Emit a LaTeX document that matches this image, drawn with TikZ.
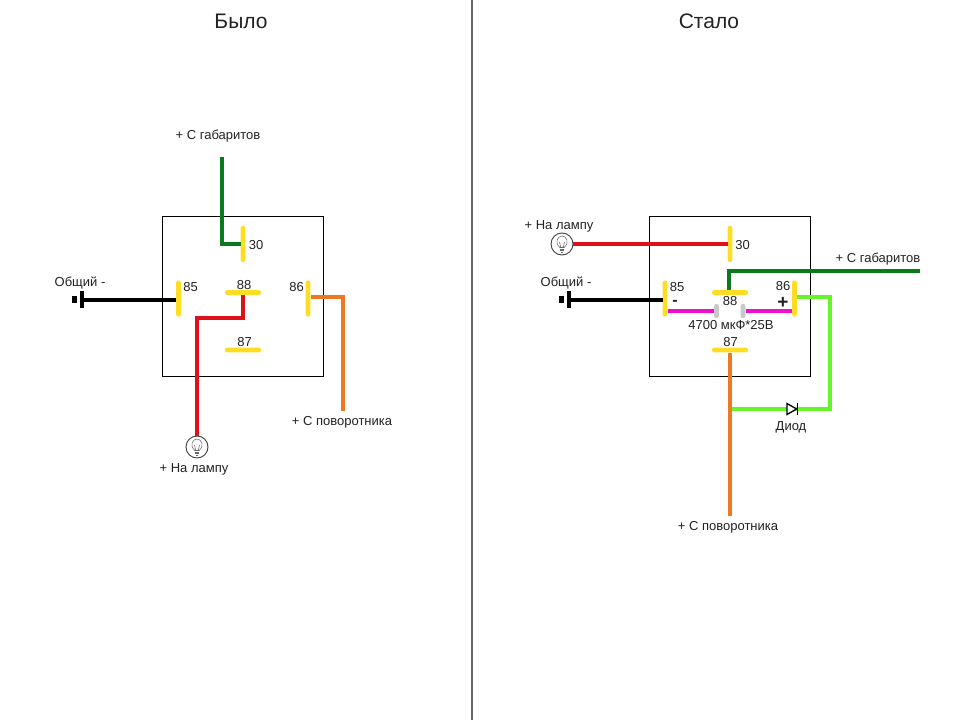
\documentclass[tikz,border=0pt]{standalone}
\usepackage{fontspec}
\setmainfont{Liberation Sans}
\definecolor{pinY}{HTML}{FFDD22}
\definecolor{wGreen}{HTML}{0B7A1E}
\definecolor{wRed}{HTML}{E0101A}
\definecolor{wOrange}{HTML}{F07820}
\definecolor{wLime}{HTML}{66F52A}
\definecolor{wMag}{HTML}{EE10CC}
\definecolor{capG}{HTML}{C8C8C8}
\definecolor{txt}{HTML}{222222}
\tikzset{
 vpin/.style={rectangle,fill=pinY,rounded corners=2pt,minimum width=4.6pt,minimum height=36pt,inner sep=0pt},
 hpin/.style={rectangle,fill=pinY,rounded corners=2pt,minimum width=36pt,minimum height=4.6pt,inner sep=0pt},
 capplate/.style={rectangle,fill=capG,rounded corners=2pt,minimum width=4.6pt,minimum height=14pt,inner sep=0pt},
 wire/.style={line width=4pt,line join=miter},
 relay/.style={rectangle,draw=black,line width=0.8pt,minimum width=161pt,minimum height=160pt,inner sep=0pt},
 lbl/.style={font=\fontsize{13}{15}\selectfont,text=txt,inner sep=0pt},
 ttl/.style={font=\fontsize{21}{25}\selectfont,text=txt,inner sep=0pt},
 lampc/.style={circle,draw=black!75,line width=0.9pt,fill=white,minimum size=22pt,inner sep=0pt},
 batbar/.style={rectangle,fill=black,minimum width=3.4pt,minimum height=17pt,inner sep=0pt},
 batstub/.style={rectangle,fill=black,minimum width=5pt,minimum height=7pt,inner sep=0pt},
 diodetri/.style={draw=black,line width=1.3pt,fill=white,line join=miter},
 bulbline/.style={draw=black!60,line width=0.55pt}
}
\newcommand{\bulbglyph}[1]{%
 \draw[bulbline] ($(#1)+(-2.2,3.5)$) .. controls ($(#1)+(-8,-2)$) and ($(#1)+(-4,-8)$) .. ($(#1)+(0,-8)$)
   .. controls ($(#1)+(4,-8)$) and ($(#1)+(8,-2)$) .. ($(#1)+(2.2,3.5)$) -- cycle;
 \draw[bulbline] ($(#1)+(-2.2,5)$) -- ($(#1)+(2.2,5)$) ($(#1)+(-2,6.5)$) -- ($(#1)+(2,6.5)$) ($(#1)+(-1,8)$) -- ($(#1)+(1,8)$);
 \draw[bulbline] ($(#1)+(-1.2,3.5)$) -- ($(#1)+(-2.5,-2)$) ($(#1)+(1.2,3.5)$) -- ($(#1)+(2.5,-2)$);
}
\usetikzlibrary{calc}
\begin{document}
\begin{tikzpicture}[x=1pt,y=-1pt]
\useasboundingbox (0,0) rectangle (960,720);
\fill[white] (0,0) rectangle (960,720);
% divider
\coordinate (divT) at (472,0); \coordinate (divB) at (472,720);
\draw[black!60,line width=1.6pt] (divT) -- (divB);
\node[ttl] (titleL) at (241,21) {Было};
\node[ttl] (titleR) at (709,21) {Стало};

% ===== left
\node[relay] (boxL) at (243,296) {};
\coordinate (lG) at (222,157);
\coordinate (lO) at (343,411);
\node[vpin] (l30) at (243,244) {};
\node[vpin] (l85) at (178.5,298.5) {};
\node[vpin] (l86) at (308,298.5) {};
\node[hpin] (l88) at (243,292.5) {};
\node[hpin] (l87) at (243,350) {};
\node[lampc] (lLamp) at (197,447) {};
\bulbglyph{lLamp}
\node[batbar] (lBat) at (82,299.5) {};
\node[batstub] (lStub) at (74.5,299.5) {};
\draw[wire,wGreen] (lG) |- (l30.west);
\draw[wire,black] (lBat.center) -- (lBat.center -| l85.west);
\draw[wire,wRed] (l88.south) -- ++(0,22.5) -| (lLamp.north);
\draw[wire,wOrange] (l86.east |- 0,297) -- (343,297) -- (lO);
\node[lbl] (lt30) at (256,245) {30};
\node[lbl] (lt85) at (190.5,287) {85};
\node[lbl] (lt86) at (296.5,287) {86};
\node[lbl] (lt88) at (244,285) {88};
\node[lbl] (lt87) at (244.5,342) {87};
\node[lbl] (ltG) at (218,136) {+ С габаритов};
\node[lbl] (ltC) at (80,283) {Общий -};
\node[lbl] (ltO) at (342,422) {+ С поворотника};
\node[lbl] (ltL) at (194,469) {+ На лампу};

% ===== right
\node[relay] (boxR) at (729.5,296) {};
\coordinate (rG) at (920,271);
\coordinate (rO) at (730,516);
\node[vpin] (r30) at (730,244) {};
\node[vpin] (r85) at (665,298.5) {};
\node[vpin] (r86) at (794.5,298.5) {};
\node[hpin] (r88) at (730,292.5) {};
\node[hpin] (r87) at (730,350) {};
\node[capplate] (capL) at (716.5,311) {};
\node[capplate] (capR) at (743,311) {};
\node[lampc] (rLamp) at (562,244) {};
\bulbglyph{rLamp}
\node[batbar] (rBat) at (569,299.5) {};
\node[batstub] (rStub) at (561,299.5) {};
\draw[wire,wRed] (rLamp.east) -- (r30.west);
\draw[wire,black] (rBat.center) -- (rBat.center -| r85.west);
\draw[wire,wGreen] (r88.north -| 729,0) -- (729,271) -- (rG);
\draw[wire,wMag] (r85.east |- 0,311) -- (capL.west);
\draw[wire,wMag] (capR.east) -- (r86.west |- 0,311);
\draw[wire,wOrange] (r87.south) -- (rO);
\coordinate (dj) at (732,409);
\draw[wire,wLime] (r86.east |- 0,297) -- (830,297) -- (830,409) -- (dj);
\draw[diodetri] (787,403.5) -- (796.5,409) -- (787,414.5) -- cycle;
\draw[black,line width=1.5pt] (797.5,403) -- (797.5,415);
\node[lbl] (rt30) at (742.5,245) {30};
\node[lbl] (rt85) at (677,287) {85};
\node[lbl] (rt86) at (783,286.5) {86};
\node[lbl] (rt88) at (730,301.5) {88};
\node[lbl] (rt87) at (730.5,342) {87};
\node[lbl] (rtM) at (731,325) {4700 мкФ*25В};
\node[lbl,font=\fontsize{19}{20}\bfseries\selectfont] (rtPlus) at (783,303) {+};
\node[lbl,font=\fontsize{16}{18}\bfseries\selectfont] (rtMinus) at (675,303) {-};
\node[lbl] (rtG) at (878,259) {+ С габаритов};
\node[lbl] (rtC) at (566,283) {Общий -};
\node[lbl] (rtO) at (728,527) {+ С поворотника};
\node[lbl] (rtL) at (559,226) {+ На лампу};
\node[lbl] (rtD) at (791,427) {Диод};
\end{tikzpicture}
\end{document}
